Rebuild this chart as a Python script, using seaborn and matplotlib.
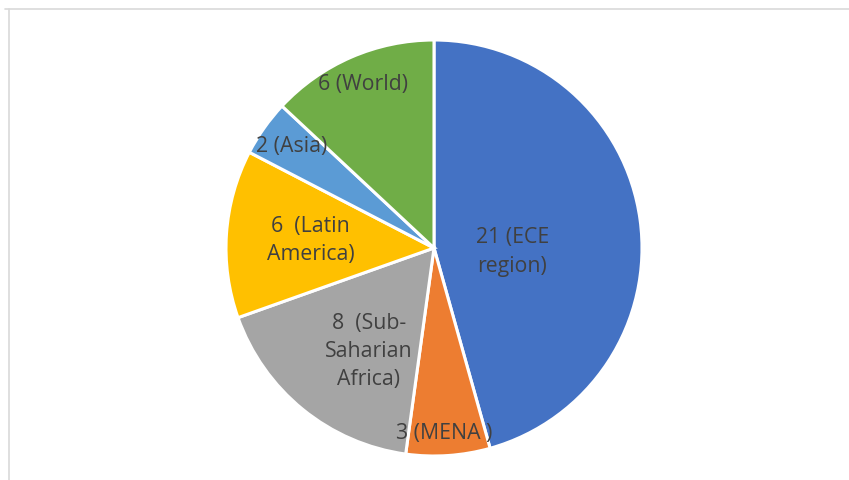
import numpy as np
import matplotlib.pyplot as plt
import seaborn as sns

regions = ["ECE region", "MENA", "Sub-Saharian Africa", "Latin America", "Asia", "World"]
counts = [21, 3, 8, 6, 2, 6]
labels = ["21 (ECE\nregion)", "3 (MENA )", "8  (Sub-\nSaharian\nAfrica)",
          "6  (Latin\nAmerica)", "2 (Asia)", "6 (World)"]
colors = ["#4472C4", "#ED7D31", "#A5A5A5", "#FFC000", "#5B9BD5", "#70AD47"]

# label placement (radius fraction, angle nudge in degrees)
label_r = [0.377, 0.89, 0.584, 0.596, 0.845, 0.86]
label_dang = [-10, -0.8, 6.6, 0, -0.6, 0]

sns.set_theme(style="white")
plt.rcParams['font.family'] = ['Open Sans', 'DejaVu Sans']

fig = plt.figure(figsize=(8.49, 4.81), dpi=100)
cx, cy, rad = 434, 249, 208
ax = fig.add_axes([(cx - rad) / 849, 1 - (cy + rad) / 481, 2 * rad / 849, 2 * rad / 481])

wedges, _ = ax.pie(counts, colors=colors, startangle=90, counterclock=False,
                   wedgeprops=dict(edgecolor="white", linewidth=2.2))
ax.set_aspect("equal")
ax.set_xlim(-1, 1)
ax.set_ylim(-1, 1)
ax.axis("off")

for w, lab, r, da in zip(wedges, labels, label_r, label_dang):
    mid = np.deg2rad((w.theta1 + w.theta2) / 2 + da)
    ax.text(r * np.cos(mid), r * np.sin(mid), lab, ha="center", va="center",
            fontsize=15.3, color="#404040", linespacing=1.45)

# chart frame
fig.add_artist(plt.Line2D([5 / 849, 1], [1 - 9.5 / 481] * 2, color="#D9D9D9", lw=1.2))
fig.add_artist(plt.Line2D([8.5 / 849] * 2, [0, 1 - 9.5 / 481], color="#D9D9D9", lw=1.2))

fig.savefig("out.png", dpi=100)
